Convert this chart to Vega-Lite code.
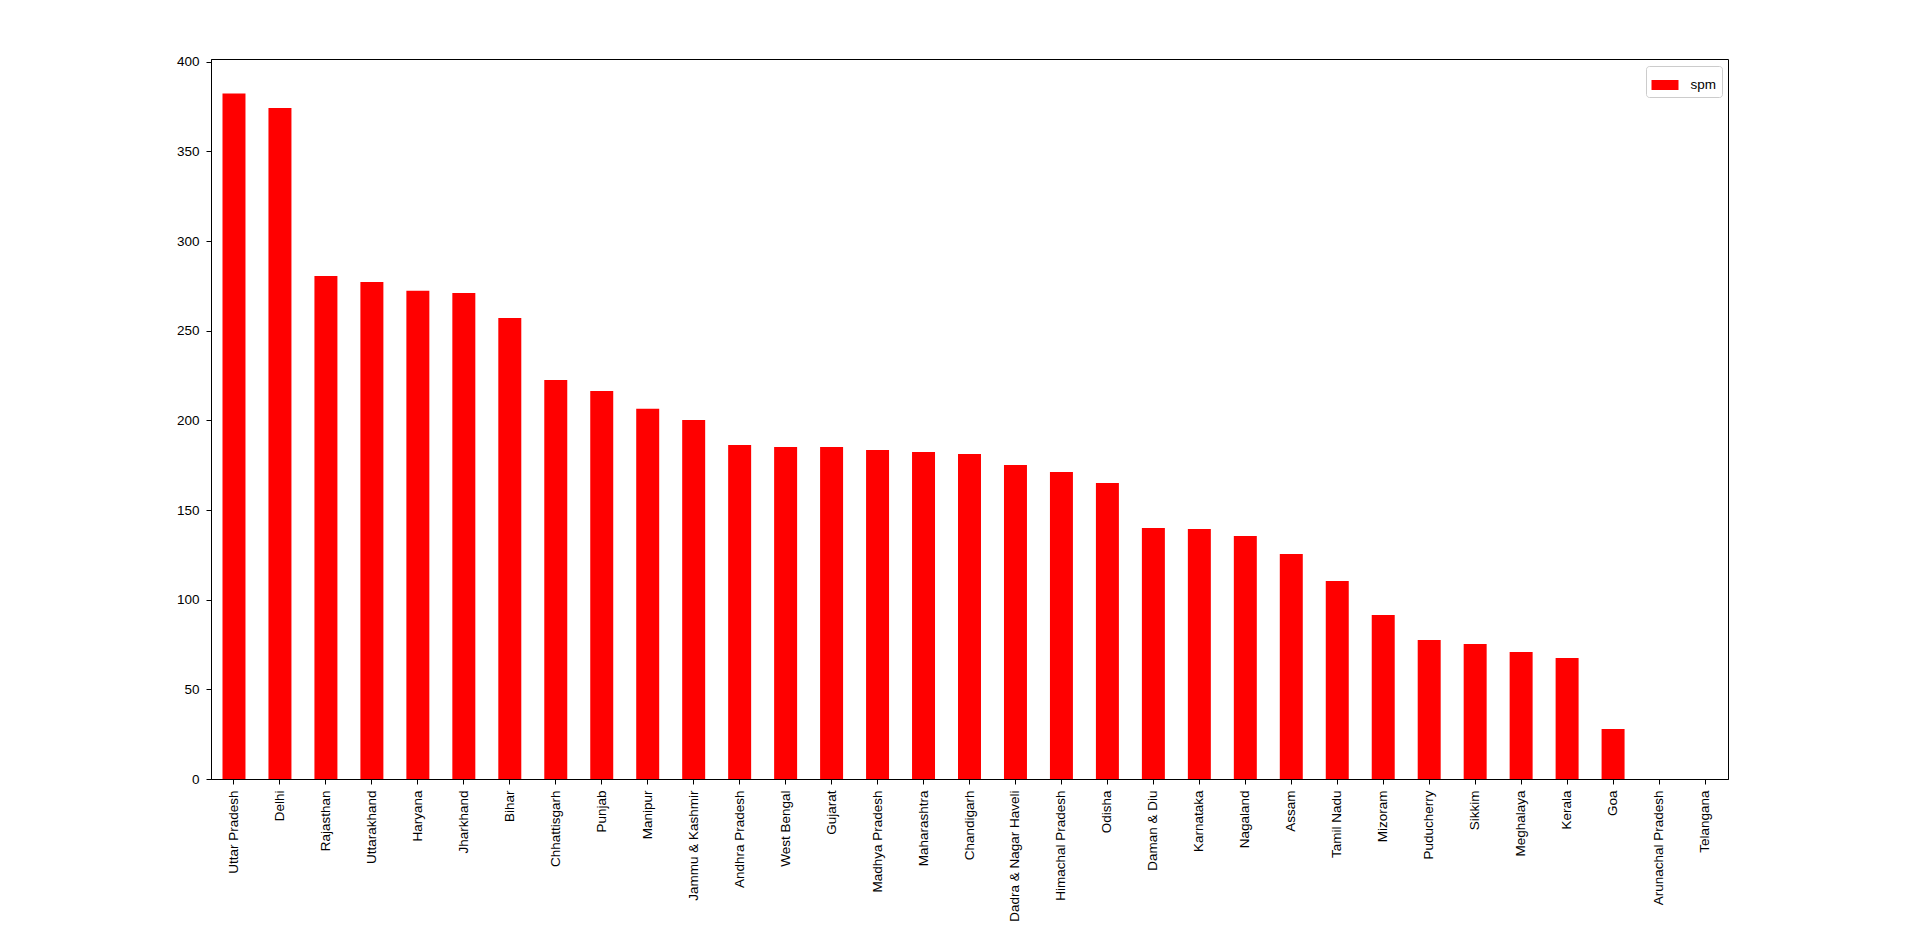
{
  "$schema": "https://vega.github.io/schema/vega-lite/v6.json",
  "autosize": "none",
  "padding": {"left": 211, "top": 59, "right": 192, "bottom": 148},
  "width": 1517,
  "height": 720,
  "background": "white",
  "data": {
    "values": [
      {"state": "Uttar Pradesh", "spm": 382.3, "series": "spm"},
      {"state": "Delhi", "spm": 374.2, "series": "spm"},
      {"state": "Rajasthan", "spm": 280.5, "series": "spm"},
      {"state": "Uttarakhand", "spm": 277.2, "series": "spm"},
      {"state": "Haryana", "spm": 272.2, "series": "spm"},
      {"state": "Jharkhand", "spm": 271.0, "series": "spm"},
      {"state": "Bihar", "spm": 257.1, "series": "spm"},
      {"state": "Chhattisgarh", "spm": 222.5, "series": "spm"},
      {"state": "Punjab", "spm": 216.4, "series": "spm"},
      {"state": "Manipur", "spm": 206.4, "series": "spm"},
      {"state": "Jammu & Kashmir", "spm": 200.2, "series": "spm"},
      {"state": "Andhra Pradesh", "spm": 186.3, "series": "spm"},
      {"state": "West Bengal", "spm": 185.2, "series": "spm"},
      {"state": "Gujarat", "spm": 185.1, "series": "spm"},
      {"state": "Madhya Pradesh", "spm": 183.5, "series": "spm"},
      {"state": "Maharashtra", "spm": 182.4, "series": "spm"},
      {"state": "Chandigarh", "spm": 181.3, "series": "spm"},
      {"state": "Dadra & Nagar Haveli", "spm": 175.1, "series": "spm"},
      {"state": "Himachal Pradesh", "spm": 171.2, "series": "spm"},
      {"state": "Odisha", "spm": 165.1, "series": "spm"},
      {"state": "Daman & Diu", "spm": 140.0, "series": "spm"},
      {"state": "Karnataka", "spm": 139.4, "series": "spm"},
      {"state": "Nagaland", "spm": 135.5, "series": "spm"},
      {"state": "Assam", "spm": 125.5, "series": "spm"},
      {"state": "Tamil Nadu", "spm": 110.4, "series": "spm"},
      {"state": "Mizoram", "spm": 91.5, "series": "spm"},
      {"state": "Puducherry", "spm": 77.5, "series": "spm"},
      {"state": "Sikkim", "spm": 75.3, "series": "spm"},
      {"state": "Meghalaya", "spm": 70.8, "series": "spm"},
      {"state": "Kerala", "spm": 67.5, "series": "spm"},
      {"state": "Goa", "spm": 27.9, "series": "spm"},
      {"state": "Arunachal Pradesh", "spm": 0, "series": "spm"},
      {"state": "Telangana", "spm": 0, "series": "spm"}
    ]
  },
  "mark": {"type": "bar"},
  "encoding": {
    "x": {
      "field": "state",
      "type": "nominal",
      "sort": null,
      "title": null,
      "scale": {"paddingInner": 0.5, "paddingOuter": 0.25},
      "axis": {"labelAngle": -90, "labelAlign": "right", "labelBaseline": "middle", "labelPadding": 6, "tickSize": 5, "labelLimit": 300}
    },
    "y": {
      "field": "spm",
      "type": "quantitative",
      "title": null,
      "scale": {"domain": [0, 401.5], "nice": false, "zero": true},
      "axis": {"values": [0, 50, 100, 150, 200, 250, 300, 350, 400], "labelPadding": 7, "tickSize": 5}
    },
    "color": {
      "field": "series",
      "type": "nominal",
      "scale": {"range": ["#ff0000"]},
      "legend": {
        "title": null,
        "orient": "none",
        "legendX": 1435,
        "legendY": 7,
        "symbolType": "M-1,-0.37L1,-0.37L1,0.37L-1,0.37Z",
        "symbolSize": 729,
        "symbolStrokeWidth": 0,
        "labelOffset": 12,
        "padding": 5.5,
        "strokeColor": "#cccccc",
        "cornerRadius": 3,
        "fillColor": "white"
      }
    }
  },
  "config": {
    "font": "Liberation Sans",
    "view": {"stroke": "black", "strokeWidth": 1},
    "axis": {
      "grid": false,
      "domainColor": "black",
      "tickColor": "black",
      "labelColor": "black",
      "labelFont": "Liberation Sans",
      "labelFontSize": 13.5
    },
    "legend": {"labelFont": "Liberation Sans", "labelFontSize": 13.5, "labelColor": "black"}
  }
}
